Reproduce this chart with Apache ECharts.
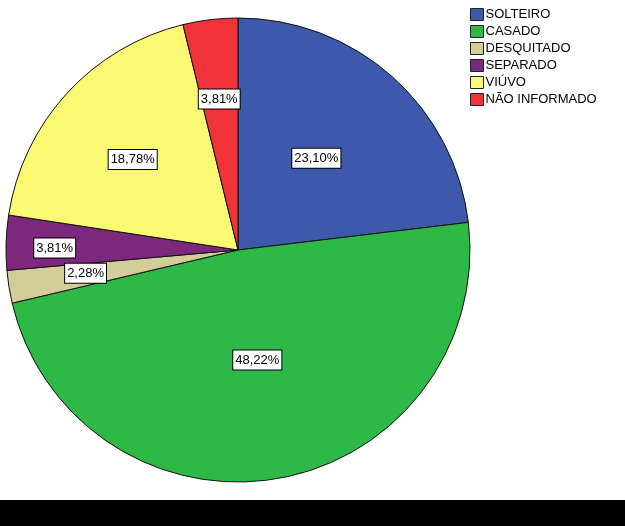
<!DOCTYPE html>
<html>
<head>
<meta charset="utf-8">
<script src="https://cdn.jsdelivr.net/npm/echarts@6/dist/echarts.min.js"></script>
<style>html,body{margin:0;padding:0;background:#fff;}#c{width:625px;height:526px;}</style>
</head>
<body>
<div id="c"></div>
<script>
var categories = ['SOLTEIRO', 'CASADO', 'DESQUITADO', 'SEPARADO', 'VIÚVO', 'NÃO INFORMADO'];
var values = [23.10, 48.22, 2.28, 3.81, 18.78, 3.81];
var colors = ['#3E58AC', '#2EB848', '#D3CE97', '#7C287D', '#FBF873', '#EF3338'];
// radial factor for label placement relative to default inside position, plus small pixel tweaks
var labelRadial = [1.03, 0.93, 1.34, 1.6, 1.2, 1.32];
var labelTweak = [[-3, 0], [0, 1], [5, -2], [7, 4], [0, 6], [0, 5]];

var CX = 238, CY = 250;
var FONT = 'Liberation Sans, Arial, sans-serif';
var chart = echarts.init(document.getElementById('c'), null, {renderer: 'canvas'});
var data = categories.map(function (n, i) {
  return {name: n, value: values[i], itemStyle: {color: colors[i]}};
});
chart.setOption({
  backgroundColor: '#ffffff',
  animation: false,
  textStyle: {fontFamily: FONT},
  legend: {
    orient: 'vertical',
    left: 470,
    top: 8,
    itemWidth: 13,
    itemHeight: 12,
    itemGap: 4,
    icon: 'rect',
    padding: 0,
    textStyle: {fontSize: 13, color: '#000', padding: [0, 0, 0, -3], fontFamily: FONT},
    itemStyle: {borderColor: '#222', borderWidth: 1},
    data: categories
  },
  graphic: [{
    type: 'rect', left: 0, bottom: 0,
    shape: {width: 625, height: 26},
    style: {fill: '#000'}
  }],
  series: [{
    type: 'pie',
    center: [CX, CY],
    radius: [0, 232],
    startAngle: 90,
    clockwise: true,
    avoidLabelOverlap: false,
    emphasis: {disabled: true},
    itemStyle: {borderColor: '#111', borderWidth: 1},
    label: {
      show: true,
      position: 'inside',
      color: '#000',
      fontSize: 13,
      fontFamily: FONT,
      backgroundColor: '#fff',
      borderColor: '#000',
      borderWidth: 1,
      padding: [3, 2, 3, 2],
      formatter: function (p) { return p.value.toFixed(2).replace('.', ',') + '%'; }
    },
    labelLine: {show: false},
    labelLayout: function (p) {
      var r = p.labelRect;
      var lx = r.x + r.width / 2, ly = r.y + r.height / 2;
      var k = labelRadial[p.dataIndex] - 1;
      var t = labelTweak[p.dataIndex];
      return {dx: (lx - CX) * k + t[0], dy: (ly - CY) * k + t[1]};
    },
    data: data
  }]
});
</script>
</body>
</html>
